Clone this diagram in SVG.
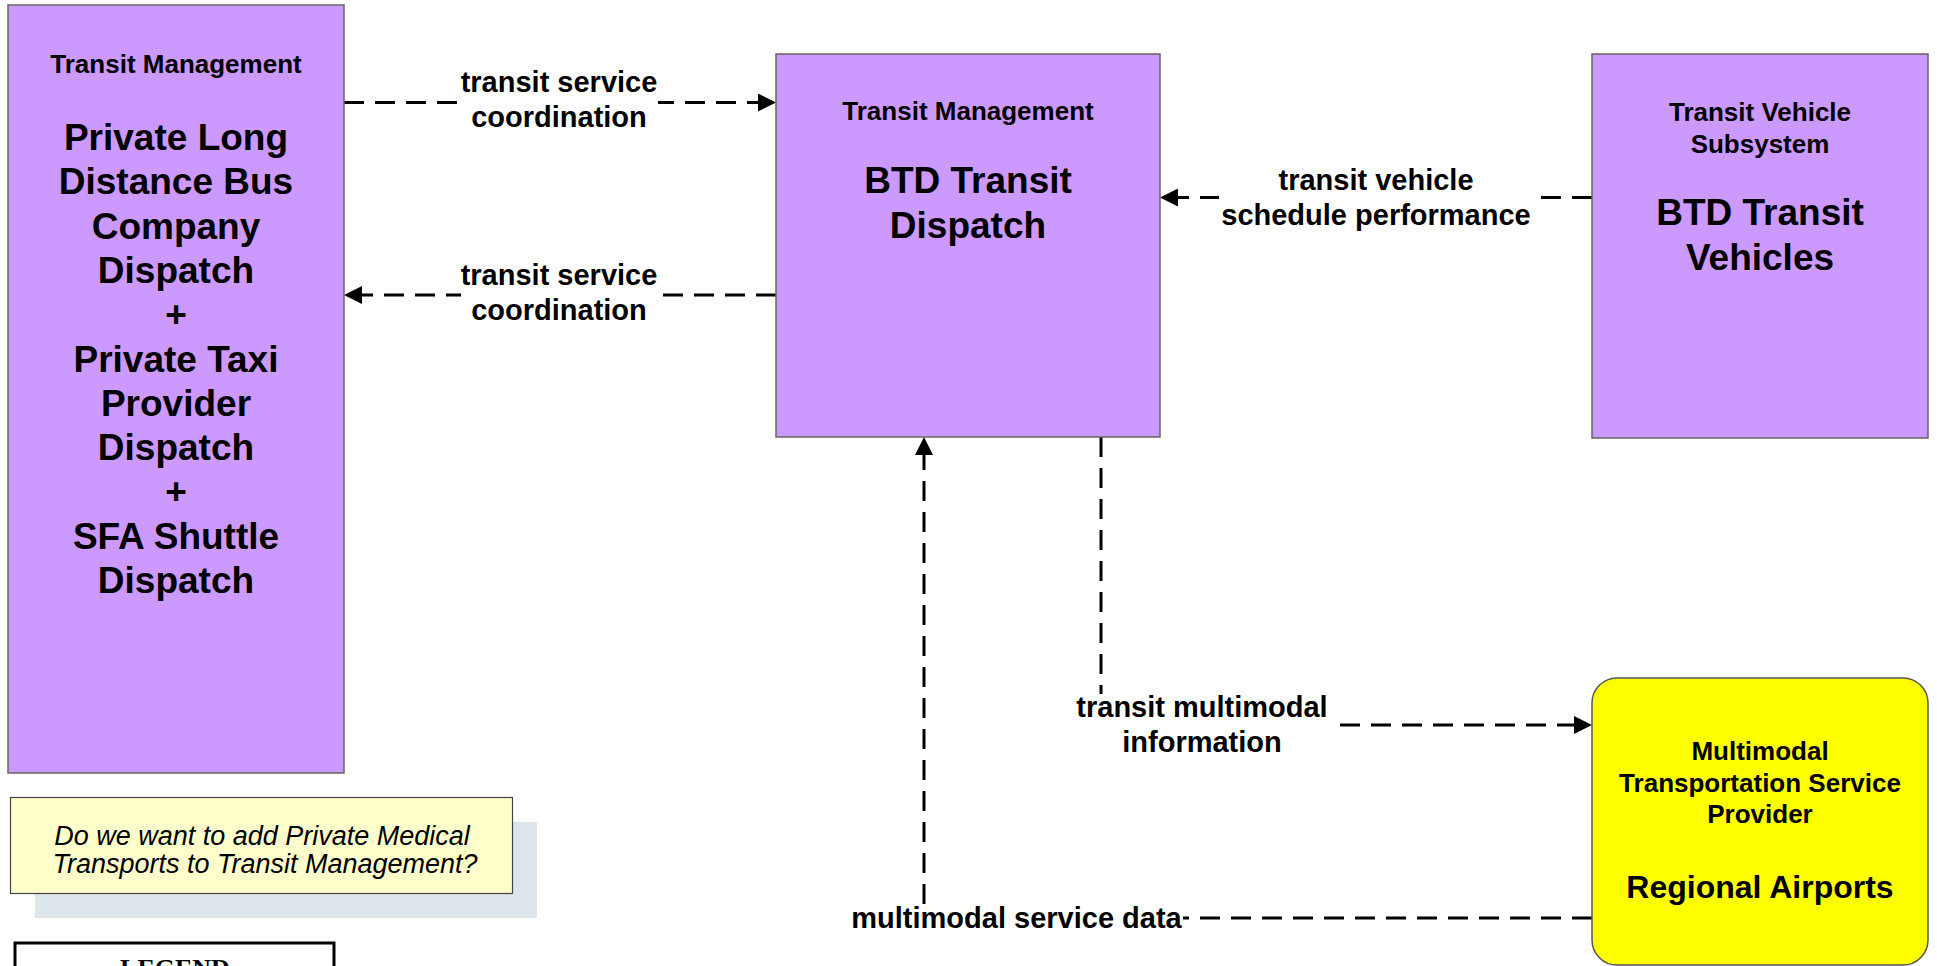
<svg xmlns="http://www.w3.org/2000/svg" width="1937" height="966" viewBox="0 0 1937 966">
<style>
.node{fill:#CC99FF;stroke:#666;stroke-width:1.5}
.hdr{font-family:"Liberation Sans",Arial,sans-serif;font-weight:bold;font-size:26px;text-anchor:middle;fill:#000}
.big{font-family:"Liberation Sans",Arial,sans-serif;font-weight:bold;font-size:37px;text-anchor:middle;fill:#000}
.lbl{font-family:"Liberation Sans",Arial,sans-serif;font-weight:bold;font-size:29px;text-anchor:middle;fill:#000}
.note{font-family:"Liberation Sans",Arial,sans-serif;font-style:italic;font-size:27px;text-anchor:middle;fill:#000}
.flow{fill:none;stroke:#000;stroke-width:3;stroke-dasharray:20 11}
.bg{fill:#fff}
</style>
<defs>
<marker id="arr" markerUnits="userSpaceOnUse" markerWidth="18" markerHeight="18" viewBox="0 0 18 18" refX="0" refY="9" orient="auto">
<path d="M0,0 L18,9 L0,18 z" fill="#000"/>
</marker>
</defs>
<g id="connectors">
<path class="flow" d="M344,102.5 H758" marker-end="url(#arr)"/>
<path class="flow" d="M776,295 H362" marker-end="url(#arr)"/>
<path class="flow" d="M1592,197.5 H1178" marker-end="url(#arr)"/>
<path class="flow" d="M1101,437 V725 H1574" marker-end="url(#arr)"/>
<path class="flow" d="M1592,918 H924 V455" marker-end="url(#arr)"/>
<rect class="bg" x="461" y="70" width="197" height="65"/>
<text class="lbl" x="559" y="92">transit service</text>
<text class="lbl" x="559" y="127">coordination</text>
<rect class="bg" x="461" y="264" width="197" height="65"/>
<text class="lbl" x="559" y="285">transit service</text>
<text class="lbl" x="559" y="320">coordination</text>
<rect class="bg" x="1219" y="168" width="314" height="65"/>
<text class="lbl" x="1376" y="190">transit vehicle</text>
<text class="lbl" x="1376" y="225">schedule performance</text>
<rect class="bg" x="1075" y="694" width="254" height="66"/>
<text class="lbl" x="1202" y="717">transit multimodal</text>
<text class="lbl" x="1202" y="752">information</text>
<rect class="bg" x="850" y="904" width="333" height="34"/>
<text class="lbl" x="1016.5" y="928">multimodal service data</text>
</g>
<g id="private-dispatch">
<rect class="node" x="8" y="5" width="336" height="768"/>
<text class="hdr" x="176" y="73">Transit Management</text>
<text class="big" x="176" y="150">Private Long</text>
<text class="big" x="176" y="194.3">Distance Bus</text>
<text class="big" x="176" y="238.6">Company</text>
<text class="big" x="176" y="282.9">Dispatch</text>
<text class="big" x="176" y="327.2">+</text>
<text class="big" x="176" y="371.5">Private Taxi</text>
<text class="big" x="176" y="415.8">Provider</text>
<text class="big" x="176" y="460.1">Dispatch</text>
<text class="big" x="176" y="504.4">+</text>
<text class="big" x="176" y="548.7">SFA Shuttle</text>
<text class="big" x="176" y="593">Dispatch</text>
</g>
<g id="btd-dispatch">
<rect class="node" x="776" y="54" width="384" height="383"/>
<text class="hdr" x="968" y="120">Transit Management</text>
<text class="big" x="968" y="193">BTD Transit</text>
<text class="big" x="968" y="238">Dispatch</text>
</g>
<g id="btd-vehicles">
<rect class="node" x="1592" y="54" width="336" height="384"/>
<text class="hdr" x="1760" y="121">Transit Vehicle</text>
<text class="hdr" x="1760" y="152.5">Subsystem</text>
<text class="big" x="1760" y="225">BTD Transit</text>
<text class="big" x="1760" y="270">Vehicles</text>
</g>
<g id="regional-airports">
<rect x="1592" y="678" width="336" height="287" rx="25" ry="25" fill="#FFFF00" stroke="#555" stroke-width="1.5"/>
<text class="hdr" x="1760" y="760">Multimodal</text>
<text class="hdr" x="1760" y="791.5">Transportation Service</text>
<text class="hdr" x="1760" y="823">Provider</text>
<text class="big" x="1760" y="898" style="font-size:32px">Regional Airports</text>
</g>
<g id="note">
<rect x="35" y="822" width="502" height="96" fill="#DCE5E9"/>
<rect x="10.5" y="797.5" width="502" height="96" fill="#FFFFCC" stroke="#444" stroke-width="1.2"/>
<text class="note" x="262" y="845">Do we want to add Private Medical</text>
<text class="note" x="265" y="873">Transports to Transit Management?</text>
</g>
<g id="legend">
<rect x="15" y="943" width="319" height="60" fill="#fff" stroke="#000" stroke-width="3"/>
<text x="175" y="977" text-anchor="middle" style="font-family:'Liberation Serif','Times New Roman',serif;font-weight:bold;font-size:26px">LEGEND</text>
</g>
</svg>
